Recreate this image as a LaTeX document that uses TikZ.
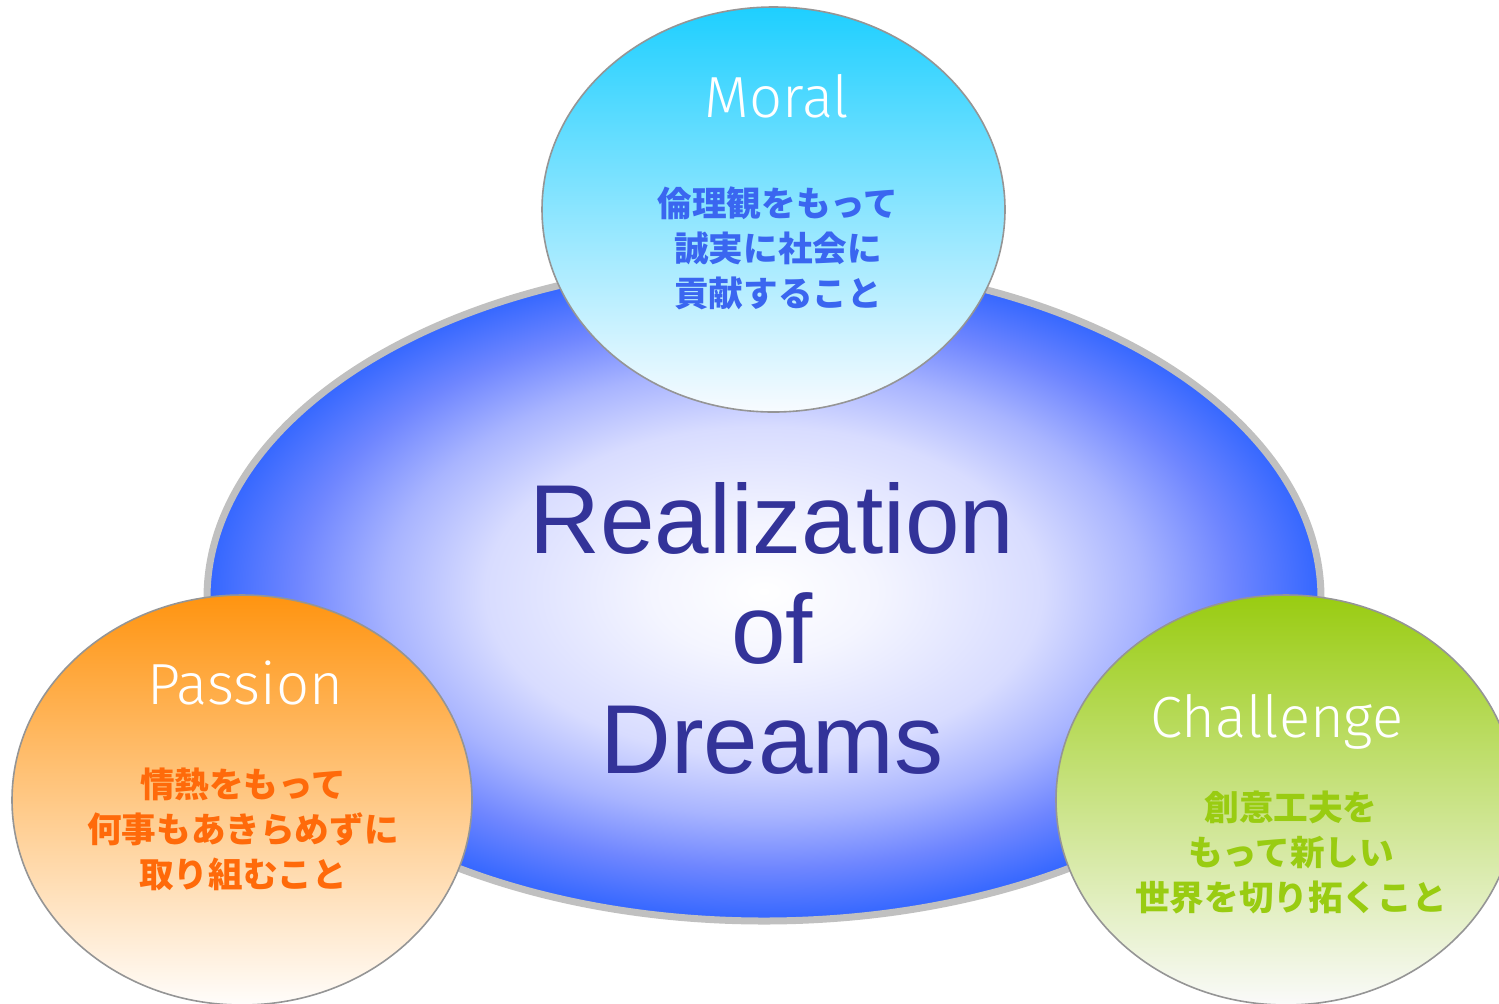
\documentclass[tikz,border=0pt]{standalone}
\usepackage{fontspec}
\setmainfont{Liberation Sans}
\newfontfamily\cjk{Noto Sans CJK JP}
\IfFontExistsTF{Fira Sans Light}{\newfontfamily\labelfont{Fira Sans Light}}{\newfontfamily\labelfont{Liberation Sans}}
\usetikzlibrary{shapes.geometric}
\definecolor{dblue}{HTML}{3366FF}
\definecolor{dc1}{HTML}{F4F5FF}
\definecolor{dc2}{HTML}{D8DCFF}
\definecolor{dc3}{HTML}{A8B4FF}
\definecolor{dc4}{HTML}{6F86FF}
\definecolor{bigrim}{HTML}{C0C0C0}
\definecolor{smallrim}{HTML}{959595}
\definecolor{titleblue}{HTML}{333399}
\definecolor{cyantop}{HTML}{1ECFFF}
\definecolor{cyanmid}{HTML}{A8E4FF}
\definecolor{cyanbot}{HTML}{F8FBFF}
\definecolor{orangetop}{HTML}{FF9410}
\definecolor{orangemid}{HTML}{FFCBA6}
\definecolor{orangebot}{HTML}{FFFDFB}
\definecolor{greentop}{HTML}{99CC11}
\definecolor{greenmid}{HTML}{CCE3A2}
\definecolor{greenbot}{HTML}{FAFAFA}
\definecolor{jblue}{HTML}{3A66F0}
\definecolor{jorange}{HTML}{FF6A0A}
\definecolor{jgreen}{HTML}{99CC11}
\pgfdeclareradialshading{dreamshade}{\pgfpoint{0bp}{0bp}}{color(0bp)=(white); color(5bp)=(dc1); color(12.5bp)=(dc2); color(17bp)=(dc3); color(21bp)=(dc4); color(25bp)=(dblue); color(50bp)=(dblue)}
\tikzset{
  bigshape/.style={draw=bigrim, line width=3.5pt, shading=dreamshade},
  smallell/.style={ellipse, draw=smallrim, line width=0.8pt, inner sep=0pt, minimum width=230pt, minimum height=205pt, shading=axis, shading angle=0},
  entitle/.style={text=white, font=\labelfont\fontsize{29}{31}\selectfont, inner sep=0pt, anchor=base},
  jptext/.style={font=\cjk\bfseries\fontsize{17.3}{22.5}\selectfont, align=center, inner sep=0pt},
  maintitle/.style={text=titleblue, font=\fontsize{49}{55}\selectfont, align=center, inner sep=0pt}
}
\begin{document}
\begin{tikzpicture}[x=0.5pt, y=-0.5pt]
\useasboundingbox (0,0) rectangle (1499,1003);
\clip (0,0) rectangle (1499,1003);
\coordinate (dreamsW) at (207,598);
\path[bigshape] (dreamsW) arc[start angle=180, end angle=0, x radius=278.5pt, y radius=168pt]
  arc[start angle=0, end angle=-180, x radius=278.5pt, y radius=161.5pt] -- cycle;
\node[maintitle] (dreamsT) at (772,628) {Realization\\of\\Dreams};
\node[smallell, minimum width=231.5pt, minimum height=202.5pt, top color=cyantop, middle color=cyanmid, bottom color=cyanbot] (moral) at (773.5,209.5) {};
\node[smallell, top color=orangetop, middle color=orangemid, bottom color=orangebot] (passion) at (242,800) {};
\node[smallell, top color=greentop, middle color=greenmid, bottom color=greenbot] (challenge) at (1286,800) {};
\node[entitle] (moralT) at (777,117) {Moral};
\node[entitle] (passionT) at (245,704) {Passion};
\node[entitle] (challengeT) at (1277,737) {Challenge};
\node[jptext, text=jblue] (moralJ) at (778,248) {倫理観をもって\\誠実に社会に\\貢献すること};
\node[jptext, text=jorange] (passionJ) at (243,829) {情熱をもって\\何事もあきらめずに\\取り組むこと};
\node[jptext, text=jgreen] (challengeJ) at (1291,852) {創意工夫を\\もって新しい\\世界を切り拓くこと};
\end{tikzpicture}
\end{document}
